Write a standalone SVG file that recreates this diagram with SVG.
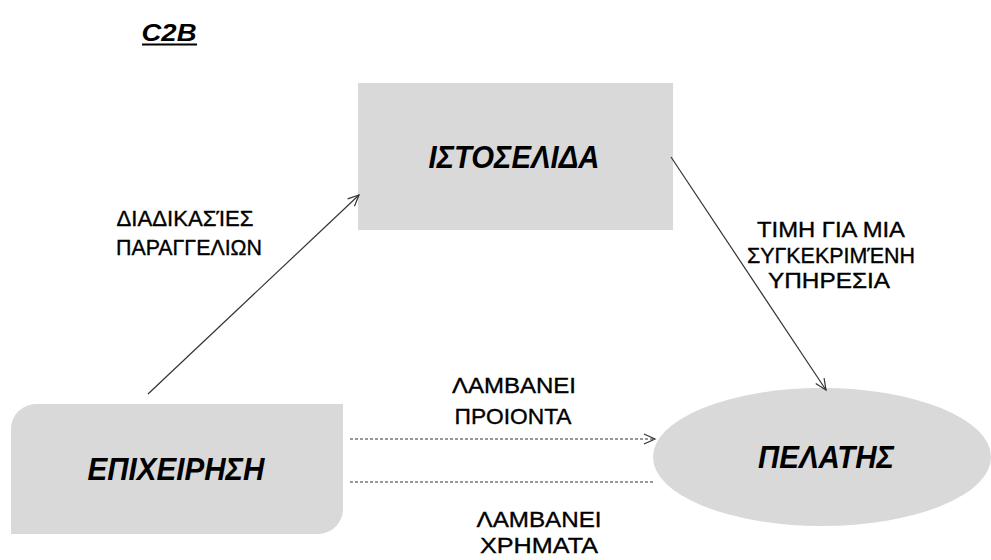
<svg xmlns="http://www.w3.org/2000/svg" width="991" height="560" viewBox="0 0 991 560">
<style>
.node{fill:#d9d9d9;}
.nt{font-family:"Liberation Sans",Arial,sans-serif;font-weight:bold;font-style:italic;font-size:31px;fill:#000;text-anchor:middle;}
.lb{font-family:"Liberation Sans",Arial,sans-serif;font-size:22px;fill:#000;stroke:#000;stroke-width:0.35;text-anchor:middle;}
.ln{stroke:#333;stroke-width:1.2;fill:none;}
.dash{stroke-dasharray:3 2;}
</style>
<defs>
<marker id="ah" markerWidth="14" markerHeight="12" refX="12" refY="6" orient="auto" markerUnits="userSpaceOnUse">
<path d="M1,1 L12,6 L1,11" fill="none" stroke="#333" stroke-width="1.2"/>
</marker>
</defs>
<rect width="991" height="560" fill="#fff"/>
<g id="title">
<text x="169" y="41" font-family="'Liberation Sans',Arial,sans-serif" font-weight="bold" font-style="italic" font-size="24" text-anchor="middle" textLength="55" lengthAdjust="spacingAndGlyphs">C2B</text>
<line x1="142" y1="44.5" x2="197" y2="44.5" stroke="#000" stroke-width="2"/>
</g>
<g id="istoselida">
<rect class="node" x="358" y="83" width="315" height="147"/>
<text class="nt" x="514" y="168" textLength="171" lengthAdjust="spacingAndGlyphs">ΙΣΤΟΣΕΛΙΔΑ</text>
</g>
<g id="epixeirisi">
<path class="node" d="M36,404 H343 V509 A25,25 0 0 1 318,534 H11 V429 A25,25 0 0 1 36,404 Z"/>
<text class="nt" x="176" y="480" textLength="177" lengthAdjust="spacingAndGlyphs">ΕΠΙΧΕΙΡΗΣΗ</text>
</g>
<g id="pelatis">
<ellipse class="node" cx="822" cy="457" rx="169" ry="69"/>
<text class="nt" x="826" y="468" textLength="136" lengthAdjust="spacingAndGlyphs">ΠΕΛΑΤΗΣ</text>
</g>
<g id="connectors">
<line class="ln" x1="148" y1="394" x2="359" y2="195" marker-end="url(#ah)"/>
<line class="ln" x1="671" y1="157" x2="826" y2="390" marker-end="url(#ah)"/>
<line class="ln dash" x1="350" y1="439" x2="655" y2="439" marker-end="url(#ah)"/>
<line class="ln dash" x1="350" y1="482" x2="654" y2="482"/>
</g>
<g id="labels">
<text class="lb" x="185" y="226" textLength="137" lengthAdjust="spacingAndGlyphs">ΔΙΑΔΙΚΑΣΊΕΣ</text>
<text class="lb" x="189" y="255" textLength="146" lengthAdjust="spacingAndGlyphs">ΠΑΡΑΓΓΕΛΙΩΝ</text>
<text class="lb" x="831" y="237" textLength="148" lengthAdjust="spacingAndGlyphs">ΤΙΜΗ ΓΙΑ ΜΙΑ</text>
<text class="lb" x="831" y="263" textLength="168" lengthAdjust="spacingAndGlyphs">ΣΥΓΚΕΚΡΙΜΈΝΗ</text>
<text class="lb" x="829" y="288" textLength="122" lengthAdjust="spacingAndGlyphs">ΥΠΗΡΕΣΙΑ</text>
<text class="lb" x="514" y="393" textLength="124" lengthAdjust="spacingAndGlyphs">ΛΑΜΒΑΝΕΙ</text>
<text class="lb" x="513" y="424" textLength="117" lengthAdjust="spacingAndGlyphs">ΠΡΟΙΟΝΤΑ</text>
<text class="lb" x="539" y="527" textLength="125" lengthAdjust="spacingAndGlyphs">ΛΑΜΒΑΝΕΙ</text>
<text class="lb" x="539" y="553" textLength="118" lengthAdjust="spacingAndGlyphs">ΧΡΗΜΑΤΑ</text>
</g>
</svg>
